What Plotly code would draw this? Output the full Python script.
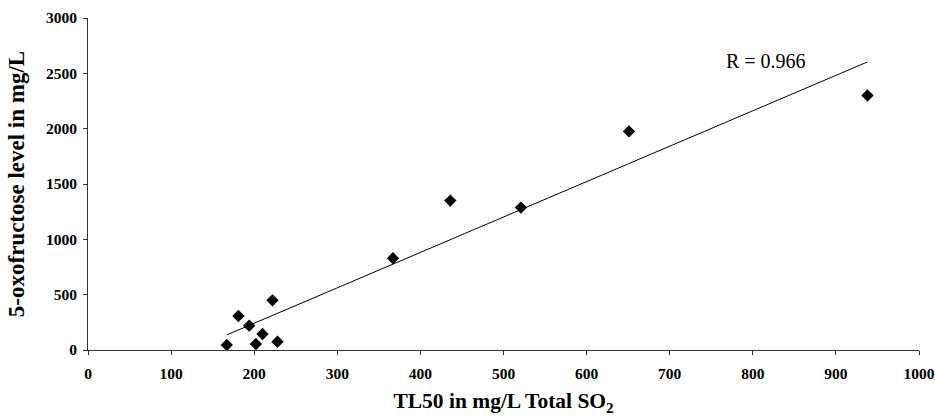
import numpy as np
import plotly.graph_objects as go

# Data
tl50 = [167, 181, 194, 222, 210, 202, 228, 367, 436, 521, 651, 938]
oxofructose = [45, 307, 220, 449, 145, 54, 75, 829, 1350, 1287, 1975, 2300]
x_ticks = [0, 100, 200, 300, 400, 500, 600, 700, 800, 900, 1000]
y_ticks = [0, 500, 1000, 1500, 2000, 2500, 3000]
r_label = "R = 0.966"

# Linear trend line fitted to the data
slope, intercept = np.polyfit(tl50, oxofructose, 1)
fit_x = [min(tl50), max(tl50)]
fit_y = [slope * v + intercept for v in fit_x]

FONT = "Liberation Serif"

fig = go.Figure()
fig.add_trace(go.Scatter(
    x=fit_x, y=fit_y, mode="lines",
    line=dict(color="black", width=1),
    hoverinfo="skip", showlegend=False,
))
fig.add_trace(go.Scatter(
    x=tl50, y=oxofructose, mode="markers",
    marker=dict(symbol="diamond", size=9.5, color="black"),
    showlegend=False,
))

axis_common = dict(showgrid=False, zeroline=False, automargin=False)

fig.update_layout(
    width=935, height=418,
    margin=dict(l=88, r=16, t=18, b=68),
    plot_bgcolor="white", paper_bgcolor="white",
    font=dict(family=FONT, color="black"),
    xaxis=dict(
        **axis_common,
        range=[0, 1000], tickvals=x_ticks,
        showline=True, linecolor="#333", linewidth=1,
        ticks="outside", ticklen=4, tickcolor="#333",
        ticklabelstandoff=5,
        tickfont=dict(family=FONT, size=15.5, color="black", weight="bold"),
        title=dict(text="TL50 in mg/L Total SO<sub>2</sub>",
                   font=dict(family=FONT, size=21.5, color="black", weight="bold"),
                   standoff=12),
    ),
    yaxis=dict(
        **axis_common,
        range=[0, 3000], tickvals=y_ticks,
        showline=True, linecolor="#333", linewidth=1,
        ticks="outside", ticklen=4, tickcolor="#333",
        ticklabelstandoff=3,
        tickfont=dict(family=FONT, size=15.5, color="black", weight="bold"),
        title=dict(text="5-oxofructose level in mg/L",
                   font=dict(family=FONT, size=23, color="black", weight="bold"),
                   standoff=14),
    ),
    xaxis2=dict(
        **axis_common, overlaying="x", matches="x", range=[0, 1000],
        tickvals=x_ticks, ticks="inside", ticklen=4, tickcolor="#333",
        showticklabels=False, showline=False, anchor="y",
    ),
    yaxis2=dict(
        **axis_common, overlaying="y", matches="y", range=[0, 3000],
        tickvals=y_ticks, ticks="inside", ticklen=4, tickcolor="#333",
        showticklabels=False, showline=False, anchor="x",
    ),
    annotations=[dict(
        x=816, y=2607, xref="x", yref="y", text=r_label, showarrow=False,
        xanchor="center", yanchor="middle",
        font=dict(family=FONT, size=20, color="black"),
    )],
)

fig.write_html("out.html")
